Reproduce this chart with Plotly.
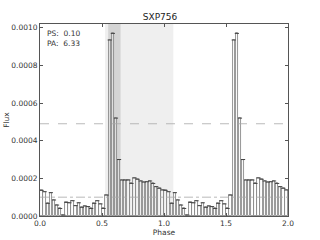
import plotly.graph_objects as go

title = "SXP756"
bin_width = 0.025
flux_one_cycle = [
    0.000136, 0.000129, 0.000067, 0.000124, 0.000085, 0.000058, 0.000040, 0.000005,
    0.000072, 0.000070, 0.000081, 0.000055, 0.000070, 0.000046, 0.000053, 0.000050,
    0.000040, 0.000067, 0.000081, 0.000064, 0.000040, 0.000111, 0.000935, 0.000970,
    0.000520, 0.000300, 0.000191, 0.000191, 0.000191, 0.000173, 0.000202, 0.000195,
    0.000186, 0.000180, 0.000182, 0.000186, 0.000173, 0.000156, 0.000147, 0.000138,
]
n_cycles = 2
light_band = [0.525, 1.075]
dark_band = [0.55, 0.65]
dashed_level = 0.00049
dashdot_level = 0.0001
ps_text = "PS:  0.10"
pa_text = "PA:  6.33"
x_ticks = [0.0, 0.5, 1.0, 1.5, 2.0]
x_tick_labels = ["0.0", "0.5", "1.0", "1.5", "2.0"]
y_ticks = [0.0, 0.0002, 0.0004, 0.0006, 0.0008, 0.0010]
y_tick_labels = ["0.0000", "0.0002", "0.0004", "0.0006", "0.0008", "0.0010"]

flux = flux_one_cycle * n_cycles
phase = [(i + 0.5) * bin_width for i in range(len(flux))]

font = "DejaVu Sans"
fig = go.Figure()
fig.add_trace(go.Bar(
    x=phase, y=flux, width=bin_width * 0.8,
    marker=dict(color="rgba(255,255,255,0.35)", line=dict(color="#8a8a8a", width=0.9)),
    showlegend=False, hoverinfo="skip",
))
fig.add_trace(go.Scatter(
    x=phase, y=flux, mode="markers",
    marker=dict(symbol="line-ew", size=3, line=dict(color="#444444", width=1)),
    showlegend=False, hoverinfo="skip",
))
shapes = [
    dict(type="rect", xref="x", yref="paper", x0=light_band[0], x1=light_band[1], y0=0, y1=1,
         fillcolor="#efefef", line=dict(width=0), layer="below"),
    dict(type="rect", xref="x", yref="paper", x0=dark_band[0], x1=dark_band[1], y0=0, y1=1,
         fillcolor="#d4d4d4", line=dict(width=0), layer="below"),
    dict(type="line", xref="paper", yref="y", x0=0, x1=1, y0=dashed_level, y1=dashed_level,
         line=dict(color="#a8a8a8", width=0.8, dash="dash")),
    dict(type="line", xref="paper", yref="y", x0=0, x1=1, y0=dashdot_level, y1=dashdot_level,
         line=dict(color="#a8a8a8", width=0.8, dash="dashdot")),
]
fig.update_layout(
    width=320, height=240,
    margin=dict(l=40, r=32, t=24, b=24),
    paper_bgcolor="white", plot_bgcolor="white",
    shapes=shapes,
    bargap=0,
    font=dict(family=font, size=8, color="#333333"),
    title=dict(text=title, x=0.5, xanchor="center", y=0.915, yanchor="bottom",
               font=dict(family=font, size=9, color="#222222")),
    annotations=[
        dict(text=ps_text + "<br>" + pa_text, xref="paper", yref="paper", x=0.02, y=0.985,
             xanchor="left", yanchor="top", showarrow=False, align="left",
             font=dict(family=font, size=7.5, color="#333333")),
    ],
)
fig.update_xaxes(
    range=[0, 2], tickvals=x_ticks, ticktext=x_tick_labels, automargin=False,
    ticks="inside", ticklen=3, tickcolor="#555555", mirror="allticks",
    showline=True, linecolor="#555555", linewidth=1, showgrid=False, zeroline=False,
    title=dict(text="Phase", standoff=0, font=dict(size=7.5)), tickfont=dict(size=7.5),
)
fig.update_yaxes(
    range=[0, 0.00102], tickvals=y_ticks, ticktext=y_tick_labels, automargin=False,
    ticks="inside", ticklen=3, tickcolor="#555555", mirror="allticks",
    showline=True, linecolor="#555555", linewidth=1, showgrid=False, zeroline=False,
    title=dict(text="Flux", standoff=0, font=dict(size=7.5)), tickfont=dict(size=7.5),
)
fig.write_html(
    "out.html",
    config={"displayModeBar": False},
    post_script="document.body.style.margin='0';document.body.style.padding='0';",
)
